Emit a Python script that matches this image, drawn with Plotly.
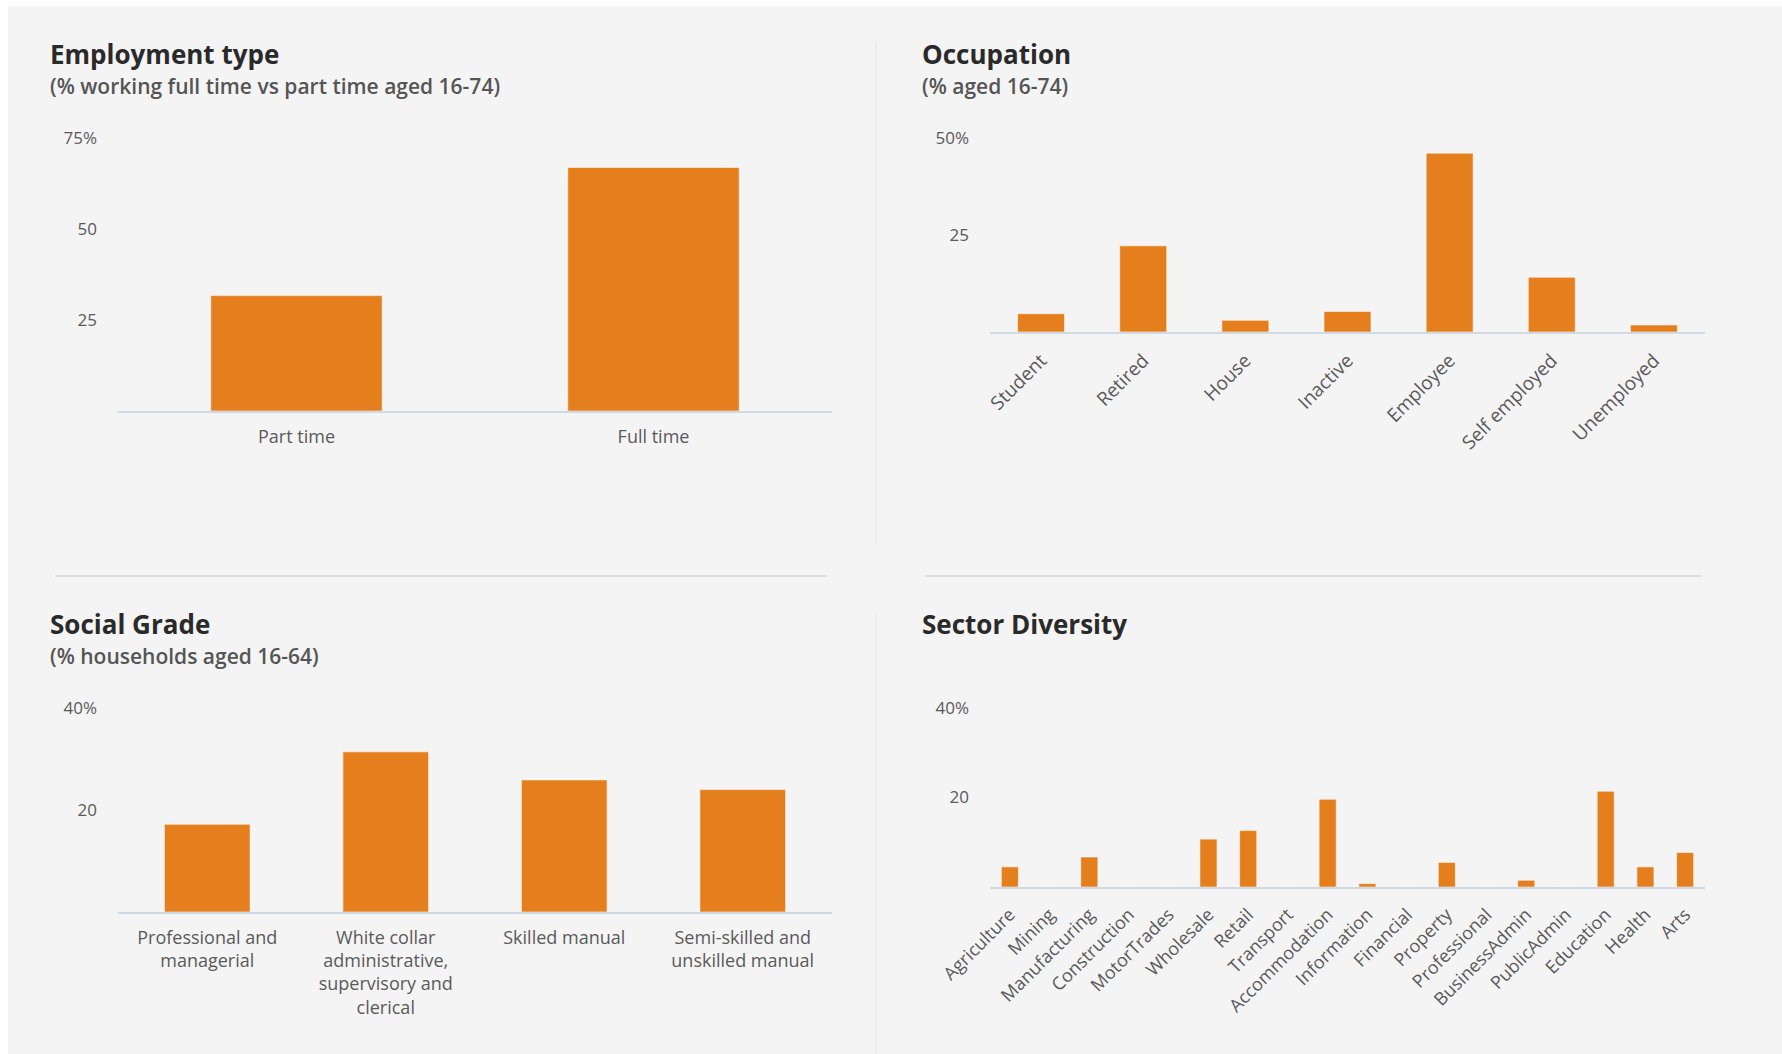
import plotly.graph_objects as go

# ---------------- data ----------------
emp_categories = ["Part time", "Full time"]
emp_values = [31.7, 66.9]

occ_categories = ["Student", "Retired", "House", "Inactive", "Employee", "Self employed", "Unemployed"]
occ_values = [4.7, 22.2, 3.0, 5.3, 46.1, 14.1, 1.8]

grade_categories = ["Professional and managerial",
                    "White collar administrative, supervisory and clerical",
                    "Skilled manual",
                    "Semi-skilled and unskilled manual"]
grade_labels = ["Professional and<br>managerial",
                "White collar<br>administrative,<br>supervisory and<br>clerical",
                "Skilled manual",
                "Semi-skilled and<br>unskilled manual"]
grade_values = [17.2, 31.4, 25.9, 24.0]

sector_categories = ["Agriculture", "Mining", "Manufacturing", "Construction", "MotorTrades",
                     "Wholesale", "Retail", "Transport", "Accommodation", "Information",
                     "Financial", "Property", "Professional", "BusinessAdmin", "PublicAdmin",
                     "Education", "Health", "Arts"]
sector_values = [4.5, 0, 6.7, 0, 0, 10.7, 12.6, 0, 19.6, 0.75,
                 0, 5.5, 0, 1.5, 0, 21.4, 4.5, 7.7]

emp_yticks = [25, 50, 75]
emp_yticktext = ["25", "50", "75%"]
occ_yticks = [25, 50]
occ_yticktext = ["25", "50%"]
grade_yticks = [20, 40]
grade_yticktext = ["20", "40%"]
sector_yticks = [20, 40]
sector_yticktext = ["20", "40%"]

# ---------------- style ----------------
W, H = 1782, 1054
BAR = "#E57E1C"
BG = "#F4F4F4"
AXIS = "#CFD9E3"
TICK_COL = "#5a5a5a"
LABEL_FONT = "Open Sans"
TITLE_FONT = "Open Sans"


def fx(px):
    return px / W


def fy(py):
    return 1 - py / H


fig = go.Figure()

panels = [
    ("", emp_categories, emp_values, emp_categories, 0.48, emp_yticks, emp_yticktext, 75, (118, 832), (138, 411), 0, 18),
    ("2", occ_categories, occ_values, occ_categories, 0.46, occ_yticks, occ_yticktext, 50, (990, 1705), (138, 332), -45, 19),
    ("3", grade_categories, grade_values, grade_labels, 0.48, grade_yticks, grade_yticktext, 40, (118, 832), (708, 912), 0, 18),
    ("4", sector_categories, sector_values, sector_categories, 0.43, sector_yticks, sector_yticktext, 40, (990, 1705), (708, 887), -45, 18),
]

layout_axes = {}
for aid, cats, vals, xlabels, bw, yt, ytt, ymax, xd, yd, ang, lsz in panels:
    fig.add_trace(go.Bar(
        x=cats, y=vals, width=bw,
        marker=dict(color=BAR, line=dict(color="rgba(255,255,255,0.55)", width=1)),
        xaxis="x" + aid, yaxis="y" + aid, showlegend=False,
        hoverinfo="x+y",
    ))
    layout_axes["xaxis" + aid] = dict(
        domain=[fx(xd[0]), fx(xd[1])],
        anchor="y" + aid,
        type="category",
        tickmode="array", tickvals=cats, ticktext=xlabels,
        tickangle=ang,
        showgrid=False, zeroline=False,
        showline=True, linecolor=AXIS, linewidth=2,
        ticks="",
        tickfont=dict(family=LABEL_FONT, size=lsz, color=TICK_COL),
        ticklabelstandoff=8,
        range=[-0.5, len(cats) - 0.5],
        automargin=False,
        fixedrange=True,
    )
    layout_axes["yaxis" + aid] = dict(
        domain=[fy(yd[1]), fy(yd[0])],
        anchor="x" + aid,
        range=[0, ymax],
        tickmode="array", tickvals=yt, ticktext=ytt,
        showgrid=False, zeroline=False, showline=False,
        ticks="",
        tickfont=dict(family=LABEL_FONT, size=17, color=TICK_COL),
        ticklabelstandoff=20,
        automargin=False,
        fixedrange=True,
    )

annotations = []
titles = [
    ("Employment type", "(% working full time vs part time aged 16-74)", 48, 54, 86),
    ("Occupation", "(% aged 16-74)", 920, 54, 86),
    ("Social Grade", "(% households aged 16-64)", 48, 624, 656),
    ("Sector Diversity", None, 920, 624, None),
]
for t, st, x, y1, y2 in titles:
    annotations.append(dict(
        text=t, x=fx(x), y=fy(y1), xref="paper", yref="paper",
        xanchor="left", yanchor="middle", showarrow=False,
        font=dict(family=TITLE_FONT, size=26, color="#2a2a2a", weight=700),
    ))
    if st:
        annotations.append(dict(
            text=st, x=fx(x), y=fy(y2), xref="paper", yref="paper",
            xanchor="left", yanchor="middle", showarrow=False,
            font=dict(family=TITLE_FONT, size=21, color="#555555", weight=600),
        ))

SEP = "#DCDCDC"
shapes = [
    dict(type="rect", xref="paper", yref="paper", x0=0, x1=1, y0=fy(6), y1=1,
         fillcolor="white", line=dict(width=0), layer="below"),
    dict(type="rect", xref="paper", yref="paper", x0=0, x1=fx(8), y0=0, y1=1,
         fillcolor="white", line=dict(width=0), layer="below"),
    dict(type="line", xref="paper", yref="paper", x0=fx(876), x1=fx(876), y0=fy(42), y1=fy(543),
         line=dict(color="#E4E4E4", width=1)),
    dict(type="line", xref="paper", yref="paper", x0=fx(876), x1=fx(876), y0=fy(614), y1=0,
         line=dict(color="#E4E4E4", width=1)),
    dict(type="line", xref="paper", yref="paper", x0=fx(55), x1=fx(827), y0=fy(576), y1=fy(576),
         line=dict(color=SEP, width=2)),
    dict(type="line", xref="paper", yref="paper", x0=fx(925), x1=fx(1701), y0=fy(576), y1=fy(576),
         line=dict(color=SEP, width=2)),
]

fig.update_layout(
    template="none",
    width=W, height=H,
    margin=dict(l=0, r=0, t=0, b=0, pad=0),
    autosize=False,
    paper_bgcolor=BG, plot_bgcolor=BG,
    annotations=annotations,
    shapes=shapes,
    font=dict(family=LABEL_FONT),
    **layout_axes,
)

fig.write_html("out.html", config={"displayModeBar": False})
